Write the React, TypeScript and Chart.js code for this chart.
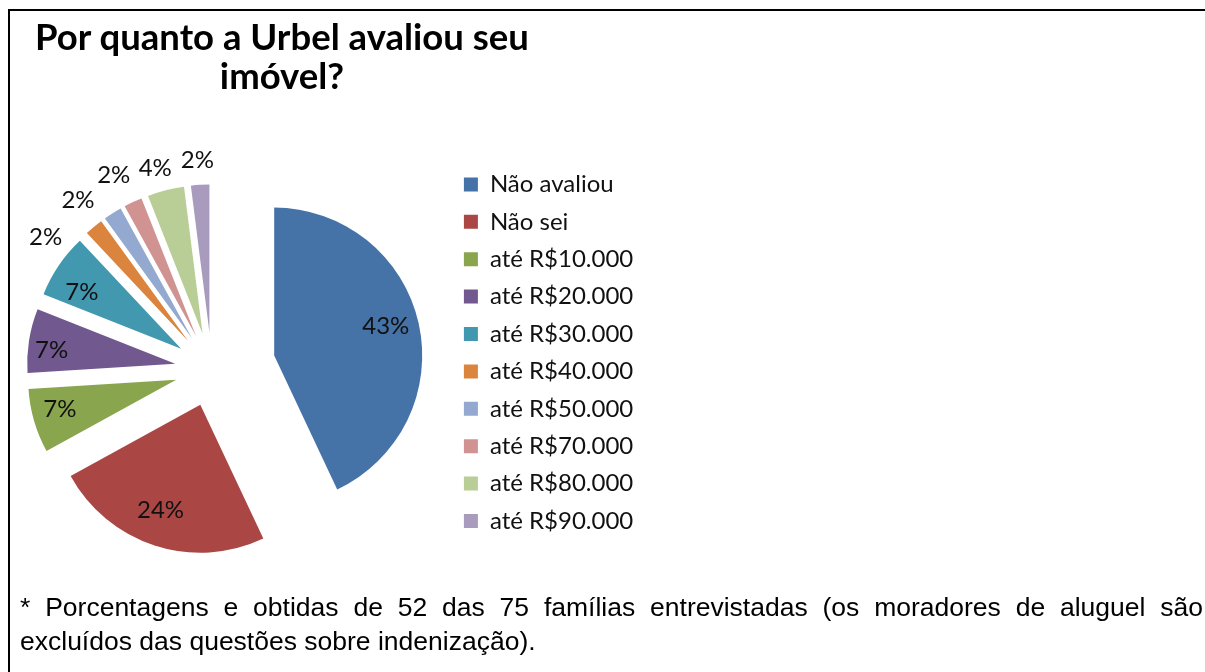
import React, { useEffect, useRef } from 'react';
import { Chart, registerables } from 'chart.js';

Chart.register(...registerables);

// ---- data ----
const categories = [
  'Não avaliou',
  'Não sei',
  'até R$10.000',
  'até R$20.000',
  'até R$30.000',
  'até R$40.000',
  'até R$50.000',
  'até R$70.000',
  'até R$80.000',
  'até R$90.000',
];
const percentages = [43, 24, 7, 7, 7, 2, 2, 2, 4, 2];
const sliceColors = [
  '#4572A7', '#AA4643', '#89A54E', '#71588F', '#4198AF',
  '#DB843D', '#93A9CF', '#D19392', '#B9CD96', '#A99BBD',
];
const titleLines = ['Por quanto a Urbel avaliou seu', 'imóvel?'];
const footnoteLine1 = '* Porcentagens e obtidas de 52 das 75 famílias entrevistadas (os moradores de aluguel são';
const footnoteLine2 = 'excluídos das questões sobre indenização).';

// ---- styles (explosion distance and label placement per slice) ----
const explodePx = [64, 37, 37, 37, 37, 37, 37, 37, 37, 37];
const labelRadius = [0.78, 0.76, 0.81, 0.84, 0.77, 1.19, 1.21, 1.22, 1.16, 1.17];
const labelShiftDeg = [-2.3, 2.7, 2.2, -2.6, -4.8, -14.4, -7.1, -1.9, -1.6, -0.4];

const CANVAS_LEFT = -27; // canvas is shifted left so the pie area can start before the frame
const CANVAS_W = 800;
const CANVAS_H = 600;
const PIE_RADIUS = 148;
const LEGEND_FONT_SIZE = 24;
const LEGEND_FONT = 'Lato';
const LEGEND_BOX = 14;
const LEGEND_PAD = 13.4;
const AREA_RIGHT = 477.5; // chart area 0..477.5 in canvas coords -> pie centre x ~211.7 on the page
const AREA_TOP = 159;
const AREA_BOTTOM = 580;

function measureLegendWidth(): number {
  const c = document.createElement('canvas');
  const ctx = c.getContext('2d');
  if (!ctx) return 200;
  ctx.font = `${LEGEND_FONT_SIZE}px ${LEGEND_FONT}`;
  let maxW = 0;
  categories.forEach((t) => {
    maxW = Math.max(maxW, ctx.measureText(t).width);
  });
  return LEGEND_PAD + LEGEND_BOX + LEGEND_FONT_SIZE / 2 + maxW + 10;
}

const explodePlugin = {
  id: 'explodeSlices',
  beforeDatasetDraw(chart: any, args: any) {
    const ctx = chart.ctx;
    args.meta.data.forEach((arc: any, i: number) => {
      const mid = (arc.startAngle + arc.endAngle) / 2;
      const d = explodePx[i] || 0;
      ctx.save();
      ctx.translate(Math.cos(mid) * d, Math.sin(mid) * d);
      arc.draw(ctx, chart.chartArea);
      ctx.restore();
    });
    return false;
  },
  afterDatasetsDraw(chart: any) {
    const ctx = chart.ctx;
    const meta = chart.getDatasetMeta(0);
    ctx.save();
    ctx.font = '24px Lato';
    ctx.fillStyle = '#111';
    ctx.textAlign = 'center';
    ctx.textBaseline = 'middle';
    meta.data.forEach((arc: any, i: number) => {
      const mid = (arc.startAngle + arc.endAngle) / 2;
      const a = mid + (labelShiftDeg[i] * Math.PI) / 180;
      const r = labelRadius[i] * arc.outerRadius;
      const d = explodePx[i] || 0;
      const x = arc.x + Math.cos(mid) * d + Math.cos(a) * r;
      const y = arc.y + Math.sin(mid) * d + Math.sin(a) * r;
      ctx.fillText(percentages[i] + '%', x, y);
    });
    ctx.restore();
  },
};

function PieChart() {
  const ref = useRef<HTMLCanvasElement | null>(null);
  useEffect(() => {
    if (!ref.current) return;
    const legendW = measureLegendWidth();
    const chart = new Chart(ref.current, {
      type: 'pie',
      data: {
        labels: categories,
        datasets: [
          {
            data: percentages,
            backgroundColor: sliceColors,
            borderWidth: 0,
          },
        ],
      },
      options: {
        responsive: false,
        animation: false,
        events: [],
        radius: PIE_RADIUS,
        layout: {
          padding: {
            left: 0,
            top: AREA_TOP,
            right: CANVAS_W - AREA_RIGHT - legendW,
            bottom: CANVAS_H - AREA_BOTTOM,
          },
        },
        plugins: {
          tooltip: { enabled: false },
          title: { display: false },
          legend: {
            position: 'right',
            align: 'start',
            labels: {
              boxWidth: LEGEND_BOX,
              boxHeight: LEGEND_BOX,
              padding: LEGEND_PAD,
              color: '#111',
              font: { family: LEGEND_FONT, size: LEGEND_FONT_SIZE },
            },
          },
        },
      } as any,
      plugins: [explodePlugin as any],
    });
    return () => chart.destroy();
  }, []);
  return (
    <canvas
      ref={ref}
      width={CANVAS_W}
      height={CANVAS_H}
      style={{ position: 'absolute', left: CANVAS_LEFT, top: 0 }}
    />
  );
}

export default function App() {
  return (
    <div style={{ position: 'absolute', left: 0, top: 0, width: 1205, height: 672, background: '#fff', overflow: 'hidden' }}>
      <PieChart />
      <div
        style={{
          position: 'absolute', left: 8, top: 9, width: 1197, height: 663,
          borderTop: '2px solid #000', borderLeft: '2px solid #000', boxSizing: 'border-box',
        }}
      />
      <div
        style={{
          position: 'absolute', left: 0, top: 17, width: 564, textAlign: 'center',
          fontFamily: 'Lato', fontWeight: 700, fontSize: 36.5, lineHeight: '39px', color: '#000',
        }}
      >
        {titleLines.map((t, i) => (
          <div key={i}>{t}</div>
        ))}
      </div>
      <div
        style={{
          position: 'absolute', left: 20, top: 590, width: 1183,
          fontFamily: '"Liberation Sans", Arial, sans-serif', fontSize: 26.5, lineHeight: '34px', color: '#000',
        }}
      >
        <div style={{ textAlign: 'justify', textAlignLast: 'justify' as any }}>{footnoteLine1}</div>
        <div style={{ textAlign: 'left' }}>{footnoteLine2}</div>
      </div>
    </div>
  );
}
